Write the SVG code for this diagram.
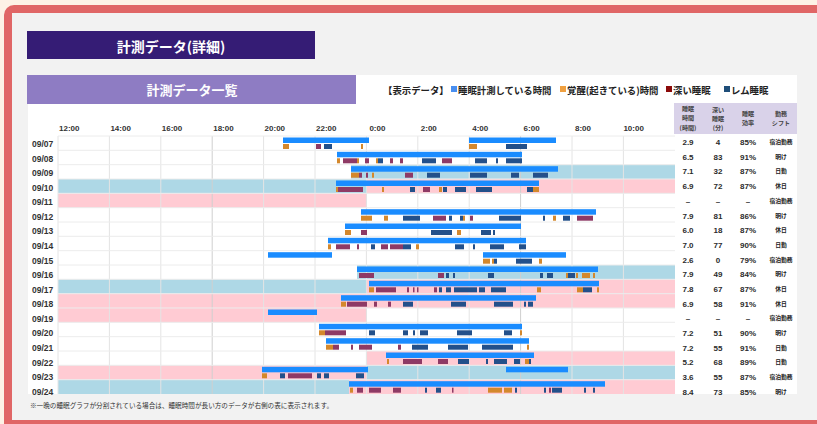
<svg xmlns="http://www.w3.org/2000/svg" width="817" height="424" viewBox="0 0 817 424">
<style>
.cjk{font-family:"Noto Sans CJK JP","Liberation Sans",sans-serif;font-weight:bold}
.num{font-family:"Liberation Sans","Noto Sans CJK JP",sans-serif;font-weight:bold;fill:#2b2b2b}
.ax{font-family:"Liberation Sans",sans-serif;font-size:8px;fill:#333;font-weight:bold}
.dt{font-family:"Liberation Sans",sans-serif;font-size:8.5px;fill:#333;font-weight:bold}
.v{font-size:8px;text-anchor:middle}
.s{font-family:"Noto Sans CJK JP",sans-serif;font-weight:bold;font-size:5.8px;text-anchor:middle;fill:#222}
.hd{font-family:"Noto Sans CJK JP",sans-serif;font-weight:bold;font-size:6.1px;text-anchor:middle;fill:#444}
.bgb{fill:#aed8e6}
.bgp{fill:#ffcbd3}
.b{fill:#1a8cff}
.w{fill:#d4882c}
.d{fill:#8e3a65}
.r{fill:#23508a}
.g{stroke:#e4e4e4;stroke-width:1}
.gd{stroke:#cfcfcf;stroke-width:1}
.h{stroke:#ececec;stroke-width:1}
</style>
<rect x="0" y="0" width="817" height="424" fill="#fdf2e6"/>
<rect x="4" y="5" width="840" height="430" rx="10" fill="#e06666"/>
<rect x="12" y="13" width="830" height="407" fill="#f2f2f2"/>

<g id="title">
<rect x="27" y="31" width="288" height="28" fill="#351c75"/>
<text x="171" y="52" class="cjk" font-size="14" fill="#fff" text-anchor="middle">計測データ(詳細)</text>
</g>
<g id="subtitle">
<rect x="27" y="75" width="329" height="29" fill="#8e7cc3"/>
<text x="192" y="94.5" class="cjk" font-size="13" fill="#fff" text-anchor="middle">計測データ一覧</text>
</g>
<rect x="356" y="75" width="441" height="29" fill="#fff"/>
<rect x="28" y="104" width="769" height="290" fill="#fff"/>

<g id="legend" class="cjk" font-size="9.4" fill="#222">
<text x="383" y="93.5">【表示データ】</text>
<rect x="451" y="86" width="6" height="6" fill="#4a8ff0"/>
<text x="458" y="93.5">睡眠計測している時間</text>
<rect x="560" y="86" width="6" height="6" fill="#f0a040"/>
<text x="567" y="93.5">覚醒(起きている)時間</text>
<rect x="666" y="86" width="6" height="6" fill="#8b0a0a"/>
<text x="673" y="93.5">深い睡眠</text>
<rect x="724" y="86" width="6" height="6" fill="#1f4e79"/>
<text x="731" y="93.5">レム睡眠</text>
</g>

<g id="axis">
<text class="ax" x="59" y="131">12:00</text>
<text class="ax" x="110.4" y="131">14:00</text>
<text class="ax" x="161.8" y="131">16:00</text>
<text class="ax" x="213.2" y="131">18:00</text>
<text class="ax" x="264.6" y="131">20:00</text>
<text class="ax" x="316" y="131">22:00</text>
<text class="ax" x="369.4" y="131">0:00</text>
<text class="ax" x="420.8" y="131">2:00</text>
<text class="ax" x="472.2" y="131">4:00</text>
<text class="ax" x="523.6" y="131">6:00</text>
<text class="ax" x="575" y="131">8:00</text>
<text class="ax" x="623.4" y="131">10:00</text>
</g>

<g id="table-header">
<rect x="674" y="103" width="123" height="31" fill="#d9d2e9"/>
<text class="hd" x="688" y="111">睡眠</text>
<text class="hd" x="688" y="120.3">時間</text>
<text class="hd" x="688" y="129.6">(時間)</text>
<text class="hd" x="718" y="111.5">深い</text>
<text class="hd" x="718" y="120.5">睡眠</text>
<text class="hd" x="718" y="129.5" fill="#666">(分)</text>
<text class="hd" x="748" y="116">睡眠</text>
<text class="hd" x="748" y="125.3">効率</text>
<text class="hd" x="781" y="116">勤務</text>
<text class="hd" x="781" y="125.3">シフト</text>
</g>

<g id="backgrounds">
<rect class="bgb" x="351" y="164.7" width="324" height="14.3"/>
<rect class="bgb" x="58" y="179" width="309" height="14.3"/>
<rect class="bgp" x="367" y="179" width="308" height="14.3"/>
<rect class="bgp" x="58" y="193.3" width="309" height="14.4"/>
<rect class="bgb" x="357" y="265" width="318" height="14.3"/>
<rect class="bgb" x="58" y="279.3" width="309" height="14.4"/>
<rect class="bgp" x="367" y="279.3" width="308" height="14.4"/>
<rect class="bgp" x="58" y="293.7" width="617" height="14.3"/>
<rect class="bgp" x="58" y="308" width="309" height="14.3"/>
<rect class="bgp" x="367" y="351" width="308" height="14.3"/>
<rect class="bgp" x="58" y="365.3" width="309" height="14.4"/>
<rect class="bgb" x="367" y="365.3" width="308" height="14.4"/>
<rect class="bgb" x="58" y="379.7" width="291" height="14.3"/>
<rect class="bgp" x="349" y="379.7" width="326" height="14.3"/>
</g>

<g id="grid">
<line class="g" x1="58" y1="136" x2="58" y2="394"/>
<line class="g" x1="109.4" y1="136" x2="109.4" y2="394"/>
<line class="g" x1="160.8" y1="136" x2="160.8" y2="394"/>
<line class="gd" x1="212.2" y1="136" x2="212.2" y2="394"/>
<line class="g" x1="263.6" y1="136" x2="263.6" y2="394"/>
<line class="g" x1="315" y1="136" x2="315" y2="394"/>
<line class="g" x1="366.4" y1="136" x2="366.4" y2="394"/>
<line class="g" x1="417.8" y1="136" x2="417.8" y2="394"/>
<line class="g" x1="469.2" y1="136" x2="469.2" y2="394"/>
<line class="gd" x1="520.6" y1="136" x2="520.6" y2="394"/>
<line class="g" x1="572" y1="136" x2="572" y2="394"/>
<line class="g" x1="623.4" y1="136" x2="623.4" y2="394"/>
<line class="h" x1="58" y1="136" x2="675" y2="136"/>
<line class="h" x1="58" y1="150.3" x2="675" y2="150.3"/>
<line class="h" x1="58" y1="164.7" x2="675" y2="164.7"/>
<line class="h" x1="58" y1="179" x2="675" y2="179"/>
<line class="h" x1="58" y1="193.3" x2="675" y2="193.3"/>
<line class="h" x1="58" y1="207.7" x2="675" y2="207.7"/>
<line class="h" x1="58" y1="222" x2="675" y2="222"/>
<line class="h" x1="58" y1="236.3" x2="675" y2="236.3"/>
<line class="h" x1="58" y1="250.7" x2="675" y2="250.7"/>
<line class="h" x1="58" y1="265" x2="675" y2="265"/>
<line class="h" x1="58" y1="279.3" x2="675" y2="279.3"/>
<line class="h" x1="58" y1="293.7" x2="675" y2="293.7"/>
<line class="h" x1="58" y1="308" x2="675" y2="308"/>
<line class="h" x1="58" y1="322.3" x2="675" y2="322.3"/>
<line class="h" x1="58" y1="336.7" x2="675" y2="336.7"/>
<line class="h" x1="58" y1="351" x2="675" y2="351"/>
<line class="h" x1="58" y1="365.3" x2="675" y2="365.3"/>
<line class="h" x1="58" y1="379.7" x2="675" y2="379.7"/>
</g>

<g id="row-0907" transform="translate(0,136)">
<rect class="b" x="283" y="1.5" width="86" height="5.5"/><rect class="b" x="469" y="1.5" width="87" height="5.5"/>
<rect class="w" x="283" y="8" width="6" height="5"/><rect class="w" x="361" y="8" width="2" height="5"/><rect class="w" x="469" y="8" width="8" height="5"/>
<rect class="d" x="316" y="8" width="5" height="5"/>
<rect class="r" x="324" y="8" width="8" height="5"/><rect class="r" x="506" y="8" width="21" height="5"/>
</g>
<g id="row-0908" transform="translate(0,150.3)">
<rect class="b" x="337" y="1.5" width="185" height="5.5"/>
<rect class="w" x="337" y="8" width="3" height="5"/><rect class="w" x="357" y="8" width="2" height="5"/><rect class="w" x="376" y="8" width="2" height="5"/>
<rect class="d" x="343" y="8" width="14" height="5"/><rect class="d" x="365" y="8" width="4" height="5"/><rect class="d" x="390" y="8" width="3" height="5"/><rect class="d" x="400" y="8" width="3" height="5"/><rect class="d" x="442" y="8" width="10" height="5"/>
<rect class="r" x="378" y="8" width="5" height="5"/><rect class="r" x="422" y="8" width="14" height="5"/><rect class="r" x="475" y="8" width="12" height="5"/><rect class="r" x="496" y="8" width="2" height="5"/><rect class="r" x="506" y="8" width="16" height="5"/>
</g>
<g id="row-0909" transform="translate(0,164.7)">
<rect class="b" x="351" y="1.5" width="207" height="5.5"/>
<rect class="w" x="351" y="8" width="8" height="5"/><rect class="w" x="372" y="8" width="2" height="5"/>
<rect class="d" x="359" y="8" width="3" height="5"/><rect class="d" x="366" y="8" width="2" height="5"/><rect class="d" x="405" y="8" width="8" height="5"/>
<rect class="r" x="427" y="8" width="13" height="5"/><rect class="r" x="470" y="8" width="17" height="5"/><rect class="r" x="511" y="8" width="8" height="5"/><rect class="r" x="533" y="8" width="15" height="5"/>
</g>
<g id="row-0910" transform="translate(0,179)">
<rect class="b" x="336" y="1.5" width="203" height="5.5"/>
<rect class="w" x="336" y="8" width="2" height="5"/><rect class="w" x="382" y="8" width="2" height="5"/><rect class="w" x="439" y="8" width="3" height="5"/><rect class="w" x="533" y="8" width="6" height="5"/>
<rect class="d" x="338" y="8" width="25" height="5"/><rect class="d" x="423" y="8" width="7" height="5"/>
<rect class="r" x="410" y="8" width="5" height="5"/><rect class="r" x="443" y="8" width="4" height="5"/><rect class="r" x="455" y="8" width="11" height="5"/><rect class="r" x="476" y="8" width="16" height="5"/><rect class="r" x="527" y="8" width="6" height="5"/>
</g>
<g id="row-0912" transform="translate(0,207.7)">
<rect class="b" x="361" y="1.5" width="235" height="5.5"/>
<rect class="w" x="361" y="8" width="11" height="5"/><rect class="w" x="384" y="8" width="4" height="5"/><rect class="w" x="463" y="8" width="2" height="5"/><rect class="w" x="553" y="8" width="3" height="5"/>
<rect class="d" x="433" y="8" width="13" height="5"/><rect class="d" x="470" y="8" width="3" height="5"/><rect class="d" x="577" y="8" width="16" height="5"/>
<rect class="r" x="403" y="8" width="17" height="5"/><rect class="r" x="449" y="8" width="3" height="5"/><rect class="r" x="460" y="8" width="3" height="5"/><rect class="r" x="499" y="8" width="22" height="5"/><rect class="r" x="543" y="8" width="2" height="5"/><rect class="r" x="563" y="8" width="7" height="5"/>
</g>
<g id="row-0913" transform="translate(0,222)">
<rect class="b" x="345" y="1.5" width="176" height="5.5"/>
<rect class="w" x="345" y="8" width="6" height="5"/><rect class="w" x="457" y="8" width="4" height="5"/>
<rect class="d" x="361" y="8" width="6" height="5"/>
<rect class="r" x="431" y="8" width="21" height="5"/><rect class="r" x="481" y="8" width="10" height="5"/><rect class="r" x="493" y="8" width="2" height="5"/>
</g>
<g id="row-0914" transform="translate(0,236.3)">
<rect class="b" x="328" y="1.5" width="198" height="5.5"/>
<rect class="w" x="328" y="8" width="3" height="5"/><rect class="w" x="416" y="8" width="3" height="5"/>
<rect class="d" x="336" y="8" width="14" height="5"/><rect class="d" x="357" y="8" width="2" height="5"/><rect class="d" x="381" y="8" width="7" height="5"/><rect class="d" x="390" y="8" width="13" height="5"/>
<rect class="r" x="371" y="8" width="4" height="5"/><rect class="r" x="403" y="8" width="8" height="5"/><rect class="r" x="455" y="8" width="9" height="5"/><rect class="r" x="473" y="8" width="2" height="5"/><rect class="r" x="490" y="8" width="14" height="5"/><rect class="r" x="519" y="8" width="7" height="5"/>
</g>
<g id="row-0915" transform="translate(0,250.7)">
<rect class="b" x="268" y="1.5" width="64" height="5.5"/><rect class="b" x="483" y="1.5" width="83" height="5.5"/>
<rect class="w" x="483" y="8" width="7" height="5"/><rect class="w" x="492" y="8" width="2" height="5"/><rect class="w" x="539" y="8" width="3" height="5"/>
<rect class="r" x="494" y="8" width="3" height="5"/><rect class="r" x="516" y="8" width="16" height="5"/>
</g>
<g id="row-0916" transform="translate(0,265)">
<rect class="b" x="357" y="1.5" width="241" height="5.5"/>
<rect class="d" x="359" y="8" width="15" height="5"/><rect class="d" x="438" y="8" width="6" height="5"/>
<rect class="r" x="446" y="8" width="3" height="5"/><rect class="r" x="453" y="8" width="2" height="5"/><rect class="r" x="488" y="8" width="6" height="5"/><rect class="r" x="540" y="8" width="3" height="5"/><rect class="r" x="547" y="8" width="6" height="5"/><rect class="r" x="568" y="8" width="7" height="5"/>
<rect class="w" x="566" y="8" width="2" height="5"/><rect class="w" x="576" y="8" width="2" height="5"/><rect class="w" x="582" y="8" width="8" height="5"/><rect class="w" x="593" y="8" width="2" height="5"/>
</g>
<g id="row-0917" transform="translate(0,279.3)">
<rect class="b" x="369" y="1.5" width="230" height="5.5"/>
<rect class="w" x="369" y="8" width="5" height="5"/><rect class="w" x="537" y="8" width="4" height="5"/><rect class="w" x="577" y="8" width="6" height="5"/><rect class="w" x="597" y="8" width="2" height="5"/>
<rect class="d" x="376" y="8" width="20" height="5"/><rect class="d" x="407" y="8" width="2" height="5"/><rect class="d" x="413" y="8" width="1.5" height="5"/><rect class="d" x="417" y="8" width="1.5" height="5"/><rect class="d" x="434" y="8" width="3" height="5"/>
<rect class="r" x="439" y="8" width="3" height="5"/><rect class="r" x="446" y="8" width="5" height="5"/><rect class="r" x="454" y="8" width="23" height="5"/><rect class="r" x="479" y="8" width="6" height="5"/><rect class="r" x="491" y="8" width="15" height="5"/><rect class="r" x="583" y="8" width="9" height="5"/>
</g>
<g id="row-0918" transform="translate(0,293.7)">
<rect class="b" x="341" y="1.5" width="195" height="5.5"/>
<rect class="w" x="341" y="8" width="5" height="5"/>
<rect class="d" x="347" y="8" width="20" height="5"/><rect class="d" x="374" y="8" width="3" height="5"/><rect class="d" x="388" y="8" width="3" height="5"/>
<rect class="r" x="403" y="8" width="10" height="5"/><rect class="r" x="451" y="8" width="15" height="5"/><rect class="r" x="494" y="8" width="19" height="5"/><rect class="r" x="524" y="8" width="2" height="5"/><rect class="r" x="528" y="8" width="5" height="5"/>
</g>
<g id="row-0919" transform="translate(0,308)">
<rect class="b" x="268" y="1.5" width="49" height="5.5"/>
</g>
<g id="row-0920" transform="translate(0,322.3)">
<rect class="b" x="319" y="1.5" width="203" height="5.5"/>
<rect class="w" x="319" y="8" width="6" height="5"/><rect class="w" x="520" y="8" width="2" height="5"/>
<rect class="d" x="325" y="8" width="21" height="5"/>
<rect class="r" x="369" y="8" width="6" height="5"/><rect class="r" x="403" y="8" width="5" height="5"/><rect class="r" x="413" y="8" width="2" height="5"/><rect class="r" x="420" y="8" width="8" height="5"/><rect class="r" x="457" y="8" width="15" height="5"/><rect class="r" x="504" y="8" width="8" height="5"/>
</g>
<g id="row-0921" transform="translate(0,336.7)">
<rect class="b" x="326" y="1.5" width="203" height="5.5"/>
<rect class="w" x="326" y="8" width="7" height="5"/><rect class="w" x="527" y="8" width="2" height="5"/>
<rect class="d" x="333" y="8" width="6" height="5"/><rect class="d" x="351" y="8" width="2" height="5"/><rect class="d" x="359" y="8" width="13" height="5"/><rect class="d" x="398" y="8" width="3" height="5"/>
<rect class="r" x="412" y="8" width="16" height="5"/><rect class="r" x="448" y="8" width="20" height="5"/><rect class="r" x="482" y="8" width="31" height="5"/>
</g>
<g id="row-0922" transform="translate(0,351)">
<rect class="b" x="386" y="1.5" width="148" height="5.5"/>
<rect class="w" x="387" y="8" width="2" height="5"/><rect class="w" x="525" y="8" width="4" height="5"/>
<rect class="d" x="403" y="8" width="19" height="5"/><rect class="d" x="438" y="8" width="10" height="5"/>
<rect class="r" x="458" y="8" width="11" height="5"/><rect class="r" x="486" y="8" width="2" height="5"/><rect class="r" x="494" y="8" width="13" height="5"/><rect class="r" x="514" y="8" width="6" height="5"/><rect class="r" x="529" y="8" width="2" height="5"/>
</g>
<g id="row-0923" transform="translate(0,365.3)">
<rect class="b" x="262" y="1.5" width="106" height="5.5"/><rect class="b" x="506" y="1.5" width="62" height="5.5"/>
<rect class="w" x="262" y="8" width="5" height="5"/>
<rect class="d" x="288" y="8" width="24" height="5"/>
<rect class="r" x="280" y="8" width="5" height="5"/><rect class="r" x="317" y="8" width="4" height="5"/><rect class="r" x="324" y="8" width="5" height="5"/><rect class="r" x="356" y="8" width="8" height="5"/>
</g>
<g id="row-0924" transform="translate(0,379.7)">
<rect class="b" x="349" y="1.5" width="256" height="5.5"/>
<rect class="w" x="350" y="8" width="3" height="5"/><rect class="w" x="488" y="8" width="14" height="5"/><rect class="w" x="504" y="8" width="8" height="5"/>
<rect class="d" x="357" y="8" width="6" height="5"/><rect class="d" x="369" y="8" width="12" height="5"/><rect class="d" x="393" y="8" width="8" height="5"/><rect class="d" x="452" y="8" width="1.5" height="5"/><rect class="d" x="549" y="8" width="2" height="5"/>
<rect class="r" x="425" y="8" width="2" height="5"/><rect class="r" x="436" y="8" width="5" height="5"/><rect class="r" x="515" y="8" width="2" height="5"/><rect class="r" x="544" y="8" width="2" height="5"/><rect class="r" x="552" y="8" width="10" height="5"/><rect class="r" x="584" y="8" width="2" height="5"/><rect class="r" x="593" y="8" width="2" height="5"/>
</g>

<g id="dates">
<text class="dt" x="32" y="147">09/07</text>
<text class="dt" x="32" y="161.6">09/08</text>
<text class="dt" x="32" y="176.1">09/09</text>
<text class="dt" x="32" y="190.7">09/10</text>
<text class="dt" x="32" y="205.3">09/11</text>
<text class="dt" x="32" y="219.9">09/12</text>
<text class="dt" x="32" y="234.4">09/13</text>
<text class="dt" x="32" y="249">09/14</text>
<text class="dt" x="32" y="263.6">09/15</text>
<text class="dt" x="32" y="278.1">09/16</text>
<text class="dt" x="32" y="292.7">09/17</text>
<text class="dt" x="32" y="307.3">09/18</text>
<text class="dt" x="32" y="321.8">09/19</text>
<text class="dt" x="32" y="336.4">09/20</text>
<text class="dt" x="32" y="351">09/21</text>
<text class="dt" x="32" y="365.6">09/22</text>
<text class="dt" x="32" y="380.1">09/23</text>
<text class="dt" x="32" y="394.7">09/24</text>
</g>

<g id="table-values" class="num">
<text class="v" x="688" y="145">2.9</text><text class="v" x="718" y="145">4</text><text class="v" x="748" y="145">85%</text><text class="s" x="781" y="144">宿泊勤務</text>
<text class="v" x="688" y="159.7">6.5</text><text class="v" x="718" y="159.7">83</text><text class="v" x="748" y="159.7">91%</text><text class="s" x="781" y="158.7">明け</text>
<text class="v" x="688" y="174.4">7.1</text><text class="v" x="718" y="174.4">32</text><text class="v" x="748" y="174.4">87%</text><text class="s" x="781" y="173.4">日勤</text>
<text class="v" x="688" y="189.1">6.9</text><text class="v" x="718" y="189.1">72</text><text class="v" x="748" y="189.1">87%</text><text class="s" x="781" y="188.1">休日</text>
<text class="v" x="688" y="203.8">–</text><text class="v" x="718" y="203.8">–</text><text class="v" x="748" y="203.8">–</text><text class="s" x="781" y="202.8">宿泊勤務</text>
<text class="v" x="688" y="218.5">7.9</text><text class="v" x="718" y="218.5">81</text><text class="v" x="748" y="218.5">86%</text><text class="s" x="781" y="217.5">明け</text>
<text class="v" x="688" y="233.1">6.0</text><text class="v" x="718" y="233.1">18</text><text class="v" x="748" y="233.1">87%</text><text class="s" x="781" y="232.1">休日</text>
<text class="v" x="688" y="247.8">7.0</text><text class="v" x="718" y="247.8">77</text><text class="v" x="748" y="247.8">90%</text><text class="s" x="781" y="246.8">日勤</text>
<text class="v" x="688" y="262.5">2.6</text><text class="v" x="718" y="262.5">0</text><text class="v" x="748" y="262.5">79%</text><text class="s" x="781" y="261.5">宿泊勤務</text>
<text class="v" x="688" y="277.2">7.9</text><text class="v" x="718" y="277.2">49</text><text class="v" x="748" y="277.2">84%</text><text class="s" x="781" y="276.2">明け</text>
<text class="v" x="688" y="291.9">7.8</text><text class="v" x="718" y="291.9">67</text><text class="v" x="748" y="291.9">87%</text><text class="s" x="781" y="290.9">休日</text>
<text class="v" x="688" y="306.6">6.9</text><text class="v" x="718" y="306.6">58</text><text class="v" x="748" y="306.6">91%</text><text class="s" x="781" y="305.6">休日</text>
<text class="v" x="688" y="321.3">–</text><text class="v" x="718" y="321.3">–</text><text class="v" x="748" y="321.3">–</text><text class="s" x="781" y="320.3">宿泊勤務</text>
<text class="v" x="688" y="336">7.2</text><text class="v" x="718" y="336">51</text><text class="v" x="748" y="336">90%</text><text class="s" x="781" y="335">明け</text>
<text class="v" x="688" y="350.7">7.2</text><text class="v" x="718" y="350.7">55</text><text class="v" x="748" y="350.7">91%</text><text class="s" x="781" y="349.7">日勤</text>
<text class="v" x="688" y="365.4">5.2</text><text class="v" x="718" y="365.4">68</text><text class="v" x="748" y="365.4">89%</text><text class="s" x="781" y="364.4">日勤</text>
<text class="v" x="688" y="380.1">3.6</text><text class="v" x="718" y="380.1">55</text><text class="v" x="748" y="380.1">87%</text><text class="s" x="781" y="379.1">宿泊勤務</text>
<text class="v" x="688" y="394.7">8.4</text><text class="v" x="718" y="394.7">73</text><text class="v" x="748" y="394.7">85%</text><text class="s" x="781" y="393.7">明け</text>
</g>

<text id="footnote" x="30" y="407.5" font-family="Noto Sans CJK JP, sans-serif" font-size="6.5" fill="#333" textLength="303" lengthAdjust="spacingAndGlyphs">※一晩の睡眠グラフが分割されている場合は、睡眠時間が長い方のデータが右側の表に表示されます。</text>
</svg>
